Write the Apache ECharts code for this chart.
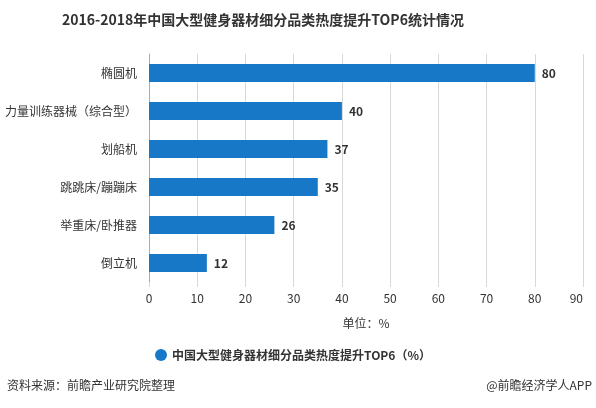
<!DOCTYPE html>
<html lang="zh">
  <head>
    <meta charset="UTF-8" />
    <title>健身器材热度提升TOP6</title>
    <script src="https://cdn.jsdelivr.net/npm/echarts@6/dist/echarts.min.js"></script>
    <style>
      body {
        margin: 0;
        padding: 0;
      }

      #main {
        width: 596px;
        height: 408px;
      }
    </style>
  </head>

  <body>
    <div id="main"></div>
    <script>
      const categories = [
        "椭圆机",
        "力量训练器械（综合型）",
        "划船机",
        "跳跳床/蹦蹦床",
        "举重床/卧推器",
        "倒立机",
      ];
      const values = [80, 40, 37, 35, 26, 12];
      const seriesName = "中国大型健身器材细分品类热度提升TOP6（%）";

      const font = "'Microsoft YaHei', 'Noto Sans CJK SC', sans-serif";
      const myChart = echarts.init(document.getElementById("main"));

      const option = {
        backgroundColor: "#fff",
        textStyle: { fontFamily: font },
        title: {
          text: "2016-2018年中国大型健身器材细分品类热度提升TOP6统计情况",
          left: 57,
          top: 8,
          textStyle: {
            fontSize: 14,
            fontWeight: "bold",
            color: "#333",
            fontFamily: font,
          },
        },
        legend: {
          left: 150,
          top: 344,
          icon: "circle",
          itemWidth: 12,
          itemHeight: 12,
          itemGap: 6,
          textStyle: {
            fontSize: 12,
            fontWeight: "bold",
            color: "#333",
          },
          data: [seriesName],
        },
        grid: {
          left: 149,
          right: 13,
          top: 54,
          bottom: 126,
        },
        xAxis: {
          type: "value",
          min: 0,
          max: 90,
          interval: 10,
          name: "单位：%",
          nameLocation: "middle",
          nameGap: 35,
          nameTextStyle: { fontSize: 12, color: "#333" },
          axisLine: { show: false },
          axisTick: {
            show: true,
            length: 5,
            lineStyle: { color: "#d9d9d9" },
          },
          axisLabel: {
            fontSize: 12,
            color: "#333",
            margin: 10,
            alignMaxLabel: "right",
          },
          splitLine: { lineStyle: { color: "#d9d9d9" } },
        },
        yAxis: {
          type: "category",
          inverse: true,
          data: categories,
          axisLine: { lineStyle: { color: "#aaa" } },
          axisTick: {
            alignWithLabel: true,
            length: 5,
            lineStyle: { color: "#aaa" },
          },
          axisLabel: { fontSize: 12, color: "#333", margin: 12 },
        },
        series: [
          {
            name: seriesName,
            type: "bar",
            data: values,
            barWidth: 18,
            itemStyle: { color: "#1778c8" },
            label: {
              show: true,
              position: "right",
              distance: 7,
              fontSize: 12,
              fontWeight: "bold",
              color: "#333",
            },
          },
        ],
        graphic: [
          {
            type: "text",
            left: 7,
            top: 379,
            style: {
              text: "资料来源：前瞻产业研究院整理",
              fontSize: 12,
              fill: "#333",
              fontFamily: font,
            },
          },
          {
            type: "text",
            right: 4,
            top: 379,
            style: {
              text: "@前瞻经济学人APP",
              fontSize: 12,
              fill: "#333",
              fontFamily: font,
            },
          },
        ],
      };

      myChart.setOption(option);
    </script>
  </body>
</html>
